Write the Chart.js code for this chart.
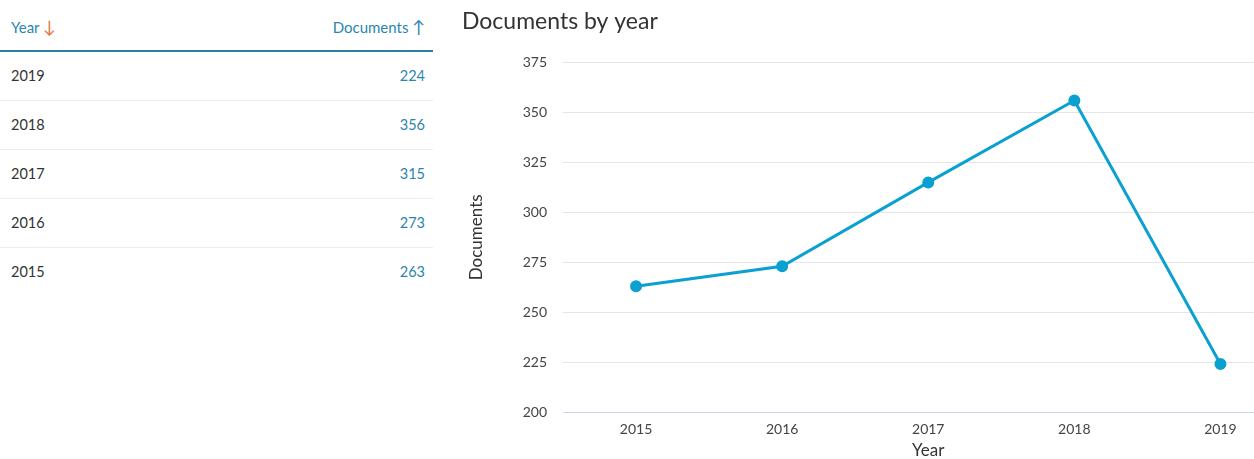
<!DOCTYPE html>
<html><head><meta charset="utf-8">
<script src="https://cdn.jsdelivr.net/npm/chart.js@4/dist/chart.umd.min.js"></script>
<style>
html,body{margin:0;padding:0;background:#fff;font-family:Lato,"Open Sans",sans-serif;}
#wrap{position:relative;width:1254px;height:459px;overflow:hidden;}
#tbl{position:absolute;left:0;top:0;width:433px;}
.hdr{position:relative;height:50px;border-bottom:2px solid #2a7fa3;font-size:15px;color:#2a86ad;}
.hdr .l{position:absolute;left:11px;top:16px;}
.hdr .r{position:absolute;right:8px;top:16px;}
.up{color:#2a86ad;font-size:17px;} .down{color:#e8733a;font-size:17px;}
.row{position:relative;height:48px;border-bottom:1px solid #ececec;font-size:14.5px;}
.row.last{border-bottom:none;}
.row .y{position:absolute;left:11px;top:15px;color:#333;}
.row .v{position:absolute;right:8px;top:15px;color:#2a86ad;}
#cw{position:absolute;left:462px;top:0;width:839px;height:459px;}
</style></head>
<body><div id="wrap"><div id="tbl"></div><div id="cw"><canvas id="c" width="839" height="459"></canvas></div></div>
<script>
const years = [2015, 2016, 2017, 2018, 2019];
const documents = [263, 273, 315, 356, 224];
const yTicks = [200, 225, 250, 275, 300, 325, 350, 375];

// table (sorted by year, descending)
const tbl = document.getElementById('tbl');
let html = '<div class="hdr"><span class="l">Year <span class="down">&#8595;</span></span><span class="r">Documents <span class="up">&#8593;</span></span></div>';
const order = years.map((y,i)=>i).sort((a,b)=>years[b]-years[a]);
order.forEach((i,k)=>{
  html += '<div class="row'+(k===order.length-1?' last':'')+'"><span class="y">'+years[i]+'</span><span class="v">'+documents[i]+'</span></div>';
});
tbl.innerHTML = html;

const FONT = 'Lato, "Open Sans", sans-serif';
new Chart(document.getElementById('c'), {
  type: 'line',
  data: {
    datasets: [{
      data: years.map((y,i)=>({x:y, y:documents[i]})),
      borderColor: '#0aa1d1',
      backgroundColor: '#0aa1d1',
      borderWidth: 3,
      pointRadius: 4.5,
      pointHoverRadius: 4.5,
      tension: 0
    }]
  },
  options: {
    responsive: false,
    animation: false,
    maintainAspectRatio: false,
    layout: {padding: 0},
    plugins: {
      legend: {display: false},
      tooltip: {enabled: false},
      title: {
        display: true, text: 'Documents by year', align: 'start',
        color: '#333', font: {family: FONT, size: 23, weight: 'normal', lineHeight: 1.2},
        padding: {top: 8, bottom: 27}
      }
    },
    scales: {
      x: {
        type: 'linear', min: 2014.5, max: 2019.5,
        afterBuildTicks: s => { s.ticks = years.map(v=>({value:v})); },
        afterFit: s => { s.height = 47; s.paddingLeft = 0; s.paddingRight = 0; },
        grid: {display: false, drawTicks: false},
        border: {display: true, color: '#ccd6eb', width: 1},
        ticks: {color: '#444', font: {family: FONT, size: 14}, padding: 9, callback: v => String(v)},
        title: {display: true, text: 'Year', color: '#333', font: {family: FONT, size: 17, lineHeight: 1}, padding: {top: 0, bottom: 0}}
      },
      y: {
        min: 200, max: 375,
        afterBuildTicks: s => { s.ticks = yTicks.map(v=>({value:v})); },
        afterFit: s => { s.width = 101; },
        grid: {color: '#e6e6e6', drawTicks: false, lineWidth: 1},
        border: {display: false},
        ticks: {color: '#444', font: {family: FONT, size: 14}, padding: 16},
        title: {display: true, text: 'Documents', color: '#333', font: {family: FONT, size: 17, lineHeight: 1.2}, padding: {top: 4, bottom: 0}}
      }
    }
  }
});
</script></body></html>
